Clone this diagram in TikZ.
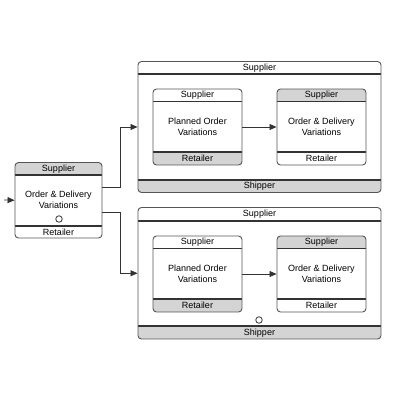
\documentclass[tikz,border=0pt]{standalone}
\usepackage{fontspec}
\setmainfont{Liberation Sans}
\usetikzlibrary{arrows.meta,calc}
\definecolor{edge}{HTML}{555555}
\definecolor{sep}{HTML}{333333}
\definecolor{band}{HTML}{D4D4D4}
\tikzset{
  frame/.style={draw=edge, line width=0.9pt, rounded corners=3.5pt},
  septline/.style={draw=sep, line width=1.3pt},
  lbl/.style={font=\fontsize{9}{11}\selectfont, text=black, inner sep=0pt, align=center},
  conn/.style={draw=sep, line width=0.8pt, -{Triangle[length=7pt,width=6pt]}},
  ring/.style={draw=sep, line width=0.8pt, fill=white}
}
% \swimbox{name}{x1}{y1}{x2}{y2}{topsep}{botsep}{topfill}{botfill}{toptext}{bottext}
\newcommand{\swimbox}[9]{%
  \begin{scope}
    \clip[rounded corners=3.5pt] (#2,#3) rectangle (#4,#5);
    \fill[white] (#2,#3) rectangle (#4,#5);
    \fill[#8] (#2,#3) rectangle (#4,#6);
    \fill[#9] (#2,#7) rectangle (#4,#5);
  \end{scope}
  \draw[septline] (#2,#6) -- (#4,#6);
  \draw[septline] (#2,#7) -- (#4,#7);
  \node[frame, fill=none, inner sep=0pt, minimum width={(#4-#2)*1pt}, minimum height={(#5-#3)*1pt}] (#1) at ({(#2+#4)/2},{(#3+#5)/2}) {};
}
\begin{document}
\begin{tikzpicture}[x=1pt,y=-1pt]
\useasboundingbox (0,0) rectangle (400,400);
\fill[white] (0,0) rectangle (400,400);

% left box
\swimbox{L}{15}{162.5}{102}{238}{175}{226}{band}{white}
\node[lbl] (Lt) at (58.5,169) {Supplier};
\node[lbl] (Lm) at (58.5,200) {Order \& Delivery\\Variations};
\node[lbl] (Lb) at (58.5,232) {Retailer};
\node[ring, circle, minimum size=6.5pt, inner sep=0pt] (Lc) at (59,219) {};

% top container
\swimbox{C1}{138}{61.5}{381}{192.5}{74}{180}{white}{band}
\node[lbl] (C1t) at (259.5,68) {Supplier};
\node[lbl] (C1b) at (259.5,186.5) {Shipper};
\swimbox{A1}{153}{89}{242}{165}{101.5}{152}{white}{band}
\node[lbl] (A1t) at (197.5,95.5) {Supplier};
\node[lbl] (A1m) at (197.5,127) {Planned Order\\Variations};
\node[lbl] (A1b) at (197.5,158.5) {Retailer};
\swimbox{B1}{277}{89}{366}{165}{101.5}{152}{band}{white}
\node[lbl] (B1t) at (321.5,95.5) {Supplier};
\node[lbl] (B1m) at (321.5,127) {Order \& Delivery\\Variations};
\node[lbl] (B1b) at (321.5,158.5) {Retailer};

% bottom container
\swimbox{C2}{138}{207.5}{381}{339}{221}{326}{white}{band}
\node[lbl] (C2t) at (259.5,214) {Supplier};
\node[lbl] (C2b) at (259.5,333) {Shipper};
\swimbox{A2}{153}{236}{242}{312}{248.5}{299}{white}{band}
\node[lbl] (A2t) at (197.5,242.5) {Supplier};
\node[lbl] (A2m) at (197.5,274) {Planned Order\\Variations};
\node[lbl] (A2b) at (197.5,305.5) {Retailer};
\swimbox{B2}{277}{236}{366}{312}{248.5}{299}{band}{white}
\node[lbl] (B2t) at (321.5,242.5) {Supplier};
\node[lbl] (B2m) at (321.5,274) {Order \& Delivery\\Variations};
\node[lbl] (B2b) at (321.5,305.5) {Retailer};
\node[ring, circle, minimum size=6.5pt, inner sep=0pt] (C2c) at (259,320) {};

% connectors
\coordinate (start) at (4,200);
\draw[conn] (start) -- (L.west);
\draw[conn] ([yshift=13pt]L.east) -- ++(18,0) |- (C1.west);
\draw[conn] ([yshift=-12pt]L.east) -- ++(18,0) |- (C2.west);
\draw[conn] (A1.east) -- (B1.west);
\draw[conn] (A2.east) -- (B2.west);
\end{tikzpicture}
\end{document}
